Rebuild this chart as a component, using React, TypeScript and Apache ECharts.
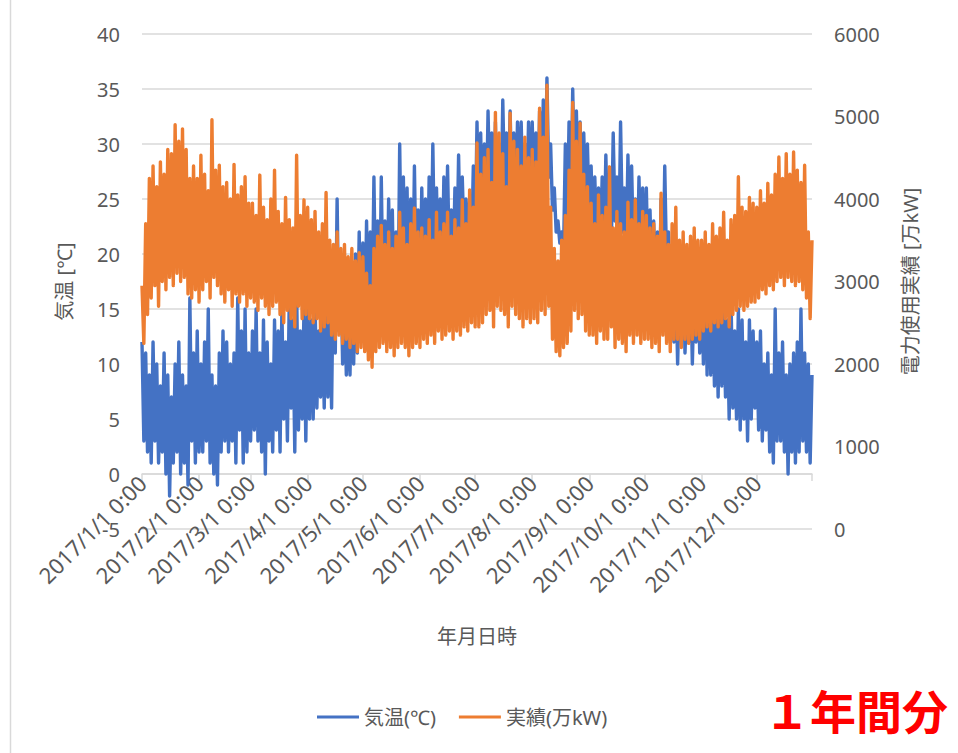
import React, { useEffect, useRef } from 'react';
import * as echarts from 'echarts';

// Two-day blocks through 2017: daily maximum (even days) and daily minimum (odd days)
// Power [万kW]
const powerHigh = [
  2950, 3700, 4250, 4400, 4150, 4450, 4300, 4600, 4550, 4900, 4700, 4850, 4600, 4250, 4400, 4250, // Jan
  4530, 4300, 4100, 4960, 4350, 4410, 4150, 4200, 4000, 4420, 4050, 4150, 4270, 3950, // Feb
  3950, 3800, 4290, 3900, 3750, 4000, 4350, 3850, 3700, 4020, 3750, 3650, 4530, 3800, 3990, // Mar
  3900, 3750, 3850, 3600, 3700, 4080, 3500, 3450, 3600, 3400, 3450, 3300, 3400, 3250, 3350, // Apr
  3300, 3100, 2950, 3400, 3550, 3680, 3450, 3600, 3400, 3550, 3840, 3650, 3450, 3700, 3890, 3600, // May
  3650, 3550, 3750, 3500, 3840, 3600, 3700, 3840, 3550, 3750, 3650, 3990, 3700, 4110, 3900, // Jun
  4680, 4300, 4500, 4600, 4200, 5050, 4800, 4550, 4150, 5040, 4700, 4600, 4400, 4750, 4500, // Jul
  4600, 4450, 5100, 4750, 5380, 3900, 3400, 3250, 3500, 3800, 4350, 5170, 4700, 4920, 4300, 4150, // Aug
  3950, 3700, 4050, 3800, 3900, 4390, 3650, 3850, 3700, 3600, 3960, 3750, 3990, 3700, 3850, // Sep
  3800, 3650, 3700, 3550, 4070, 3600, 3450, 3700, 3900, 3500, 3600, 3450, 3550, 3650, 3500, // Oct
  3500, 3600, 3450, 3700, 3550, 3650, 3840, 3500, 3750, 3800, 4270, 3900, 3850, 4020, 3950, // Nov
  3900, 4100, 3950, 4190, 4050, 4300, 4510, 4250, 4550, 4300, 4570, 4350, 4200, 4410, 3600, 3500, // Dec
];
const powerLow = [
  2250, 2600, 2800, 2950, 2700, 3000, 2900, 3050, 2950, 3100, 3000, 3050, 2850, 2800, 2900, 2750, // Jan
  2900, 3000, 2800, 3050, 2950, 2850, 2750, 2900, 2700, 2850, 2750, 2850, 2700, 2800, // Feb
  2750, 2650, 2800, 2700, 2600, 2700, 2750, 2600, 2500, 2650, 2550, 2450, 2700, 2550, 2600, // Mar
  2550, 2500, 2550, 2400, 2450, 2500, 2350, 2300, 2350, 2250, 2300, 2200, 2250, 2150, 2200, // Apr
  2150, 2050, 1960, 2150, 2200, 2250, 2150, 2200, 2100, 2200, 2250, 2200, 2100, 2200, 2250, 2200, // May
  2300, 2250, 2350, 2250, 2400, 2300, 2350, 2400, 2300, 2400, 2350, 2450, 2400, 2500, 2450, // Jun
  2450, 2500, 2600, 2650, 2450, 2700, 2650, 2600, 2450, 2700, 2600, 2550, 2450, 2550, 2500, // Jul
  2550, 2500, 2650, 2600, 2700, 2300, 2150, 2100, 2200, 2250, 2400, 2650, 2550, 2600, 2400, 2350, // Aug
  2350, 2250, 2400, 2300, 2300, 2450, 2200, 2300, 2250, 2150, 2350, 2250, 2350, 2250, 2300, // Sep
  2300, 2200, 2250, 2150, 2350, 2250, 2150, 2300, 2300, 2200, 2300, 2250, 2300, 2350, 2300, // Oct
  2400, 2450, 2400, 2500, 2450, 2500, 2550, 2450, 2600, 2650, 2700, 2650, 2700, 2750, 2750, // Nov
  2800, 2900, 2850, 2950, 2900, 3000, 3050, 2950, 3050, 3000, 2950, 3000, 2900, 2800, 2550, // Dec
];
// Temperature [℃]
const tempHigh = [
  12, 11, 9, 12, 10, 8, 11, 9, 7, 10, 12, 9, 8, 16, 11, 13, // Jan
  10, 12, 15, 9, 8, 11, 13, 12, 10, 11, 16, 13, 15, 11, // Feb
  13, 15, 11, 14, 12, 10, 14, 13, 15, 12, 16, 14, 17, 13, 15, // Mar
  15, 14, 16, 13, 15, 17, 16, 20, 25, 19, 17, 15, 18, 20, 22, // Apr
  21, 23, 22, 27, 23, 27, 23, 25, 24, 22, 30, 27, 26, 25, 28, 24, // May
  26, 25, 27, 30, 26, 25, 27, 28, 24, 26, 29, 27, 25, 25, 28, // Jun
  32, 31, 30, 33, 31, 32, 30, 34, 31, 33, 31, 32, 32, 30, 32, // Jul
  32, 31, 33, 34, 36, 30, 26, 23, 22, 30, 32, 35, 33, 32, 31, 30, // Aug
  28, 27, 26, 27, 29, 26, 31, 27, 32, 26, 29, 28, 25, 27, 26, // Sep
  26, 24, 23, 22, 25, 28, 22, 19, 18, 17, 20, 16, 18, 17, 19, // Oct
  19, 21, 18, 17, 16, 18, 15, 14, 16, 13, 15, 14, 12, 14, 13, // Nov
  12, 13, 10, 11, 9, 15, 11, 12, 9, 10, 11, 12, 15, 11, 10, 9, // Dec
];
const tempLow = [
  3, 2, 1, 3, 1, 2, 0, -2, 1, 2, 0, 1, -1, 3, 1, 2, // Jan
  2, 3, 1, 0, -1, 2, 3, 2, 3, 1, 4, 1, 2, 3, // Feb
  4, 3, 2, 0, 3, 2, 4, 2, 5, 3, 6, 2, 4, 5, 3, // Mar
  5, 5, 6, 7, 6, 7, 6, 11, 13, 10, 9, 9, 10, 11, 12, // Apr
  12, 13, 14, 15, 13, 15, 14, 15, 14, 13, 17, 16, 16, 15, 17, 16, // May
  17, 16, 18, 19, 18, 17, 18, 19, 18, 19, 20, 21, 20, 20, 21, // Jun
  23, 22, 23, 25, 24, 24, 23, 26, 25, 25, 24, 25, 25, 24, 25, // Jul
  25, 24, 25, 26, 27, 24, 22, 21, 20, 22, 24, 26, 25, 25, 24, 23, // Aug
  22, 21, 20, 20, 22, 21, 23, 20, 22, 19, 21, 20, 18, 19, 19, // Sep
  18, 17, 16, 15, 17, 19, 14, 12, 10, 13, 11, 12, 10, 12, 11, // Oct
  10, 9, 9, 8, 7, 8, 7, 5, 6, 5, 4, 5, 3, 5, 6, // Nov
  4, 3, 4, 2, 1, 3, 3, 2, 0, 2, 1, 2, 3, 2, 1, // Dec
];

const tickLabels = [
  '2017/1/1 0:00', '2017/2/1 0:00', '2017/3/1 0:00', '2017/4/1 0:00',
  '2017/5/1 0:00', '2017/6/1 0:00', '2017/7/1 0:00', '2017/8/1 0:00',
  '2017/9/1 0:00', '2017/10/1 0:00', '2017/11/1 0:00', '2017/12/1 0:00',
];
const seriesNames = ['気温(℃)', '実績(万kW)'];

const FONT = '"Noto Sans", "Noto Sans CJK JP", sans-serif';
const TEXT = '#595959';
const GRID = '#D9D9D9';

function buildCategories(): string[] {
  const out: string[] = [];
  for (let d = 0; d < 365; d++) {
    const dt = new Date(Date.UTC(2017, 0, 1 + d));
    out.push(`${dt.getUTCFullYear()}/${dt.getUTCMonth() + 1}/${dt.getUTCDate()} 0:00`);
  }
  return out;
}

function interleave(hi: number[], lo: number[]): number[] {
  const out: number[] = [];
  for (let i = 0; i < hi.length; i++) {
    out.push(hi[i]);
    if (i < lo.length) out.push(lo[i]);
  }
  return out;
}

export default function App() {
  const ref = useRef<HTMLDivElement>(null);
  useEffect(() => {
    if (!ref.current) return;
    const chart = echarts.init(ref.current, undefined, { renderer: 'svg' });
    const categories = buildCategories();
    const labelIdx = new Set<number>();
    categories.forEach((c, i) => { if (tickLabels.includes(c)) labelIdx.add(i); });
    const tickIdx = new Set<number>(labelIdx);
    tickIdx.add(categories.length - 1);

    // Temperature axis spans -5..40 over the grid; the category axis crosses at 0℃
    const gridTop = 34;
    const gridHeight = 495;
    const zeroOffset = -gridHeight * (5 / 45);

    chart.setOption({
      animation: false,
      backgroundColor: '#ffffff',
      textStyle: { fontFamily: FONT },
      grid: { left: 142, right: 146, top: gridTop, height: gridHeight, containLabel: false },
      xAxis: {
        type: 'category',
        data: categories,
        boundaryGap: false,
        offset: zeroOffset,
        axisLine: { onZero: false, lineStyle: { color: GRID, width: 1.5 } },
        axisTick: {
          show: true,
          interval: (i: number) => tickIdx.has(i),
          length: 7,
          lineStyle: { color: GRID, width: 1.5 },
        },
        axisLabel: {
          interval: (i: number) => labelIdx.has(i),
          rotate: 45,
          fontSize: 22,
          color: TEXT,
          margin: 5,
          fontFamily: FONT,
        },
        splitLine: { show: false },
        name: '年月日時',
        nameLocation: 'middle',
        nameGap: 152,
        nameTextStyle: { fontSize: 20, color: TEXT, fontFamily: FONT },
      },
      yAxis: [
        {
          type: 'value',
          min: -5,
          max: 40,
          interval: 5,
          axisLine: { show: false },
          axisTick: { show: false },
          splitLine: { show: true, lineStyle: { color: GRID, width: 1.5 } },
          axisLabel: { fontSize: 20, color: TEXT, margin: 22, fontFamily: FONT, formatter: (v: number) => String(v) },
          name: '気温 [℃]',
          nameLocation: 'middle',
          nameRotate: 90,
          nameGap: 68,
          nameTextStyle: { fontSize: 20, color: TEXT, fontFamily: FONT },
        },
        {
          type: 'value',
          min: 0,
          max: 6000,
          interval: 1000,
          position: 'right',
          axisLine: { show: false },
          axisTick: { show: false },
          splitLine: { show: false },
          axisLabel: { fontSize: 20, color: TEXT, margin: 22, fontFamily: FONT, formatter: (v: number) => String(v) },
          name: '電力使用実績 [万kW]',
          nameLocation: 'middle',
          nameRotate: 90,
          nameGap: 88,
          nameTextStyle: { fontSize: 20, color: TEXT, fontFamily: FONT },
        },
      ],
      legend: {
        data: seriesNames,
        left: 312,
        top: 702,
        icon: 'rect',
        itemWidth: 42,
        itemHeight: 3,
        itemGap: 23,
        textStyle: { fontSize: 20, color: TEXT, fontFamily: FONT },
      },
      series: [
        {
          name: seriesNames[0],
          type: 'line',
          yAxisIndex: 0,
          data: interleave(tempHigh, tempLow),
          showSymbol: false,
          symbol: 'none',
          color: '#4472C4',
          lineStyle: { width: 3.4, color: '#4472C4', join: 'round' },
          z: 2,
        },
        {
          name: seriesNames[1],
          type: 'line',
          yAxisIndex: 1,
          data: interleave(powerHigh, powerLow),
          showSymbol: false,
          symbol: 'none',
          color: '#ED7D31',
          lineStyle: { width: 3.4, color: '#ED7D31', join: 'round' },
          z: 3,
        },
      ],
      graphic: [
        {
          type: 'line',
          shape: { x1: 10.5, y1: 0, x2: 10.5, y2: 753 },
          style: { stroke: GRID, lineWidth: 1.5 },
        },
        {
          type: 'text',
          left: 764,
          top: 686,
          style: {
            text: '１年間分',
            fontSize: 46,
            fontWeight: 'bold',
            fill: '#FF0000',
            fontFamily: '"Noto Sans CJK JP", sans-serif',
          },
        },
      ],
    });
    return () => chart.dispose();
  }, []);
  return (
    <div
      ref={ref}
      style={{ position: 'absolute', left: 0, top: 0, width: 958, height: 753, background: '#fff' }}
    />
  );
}
